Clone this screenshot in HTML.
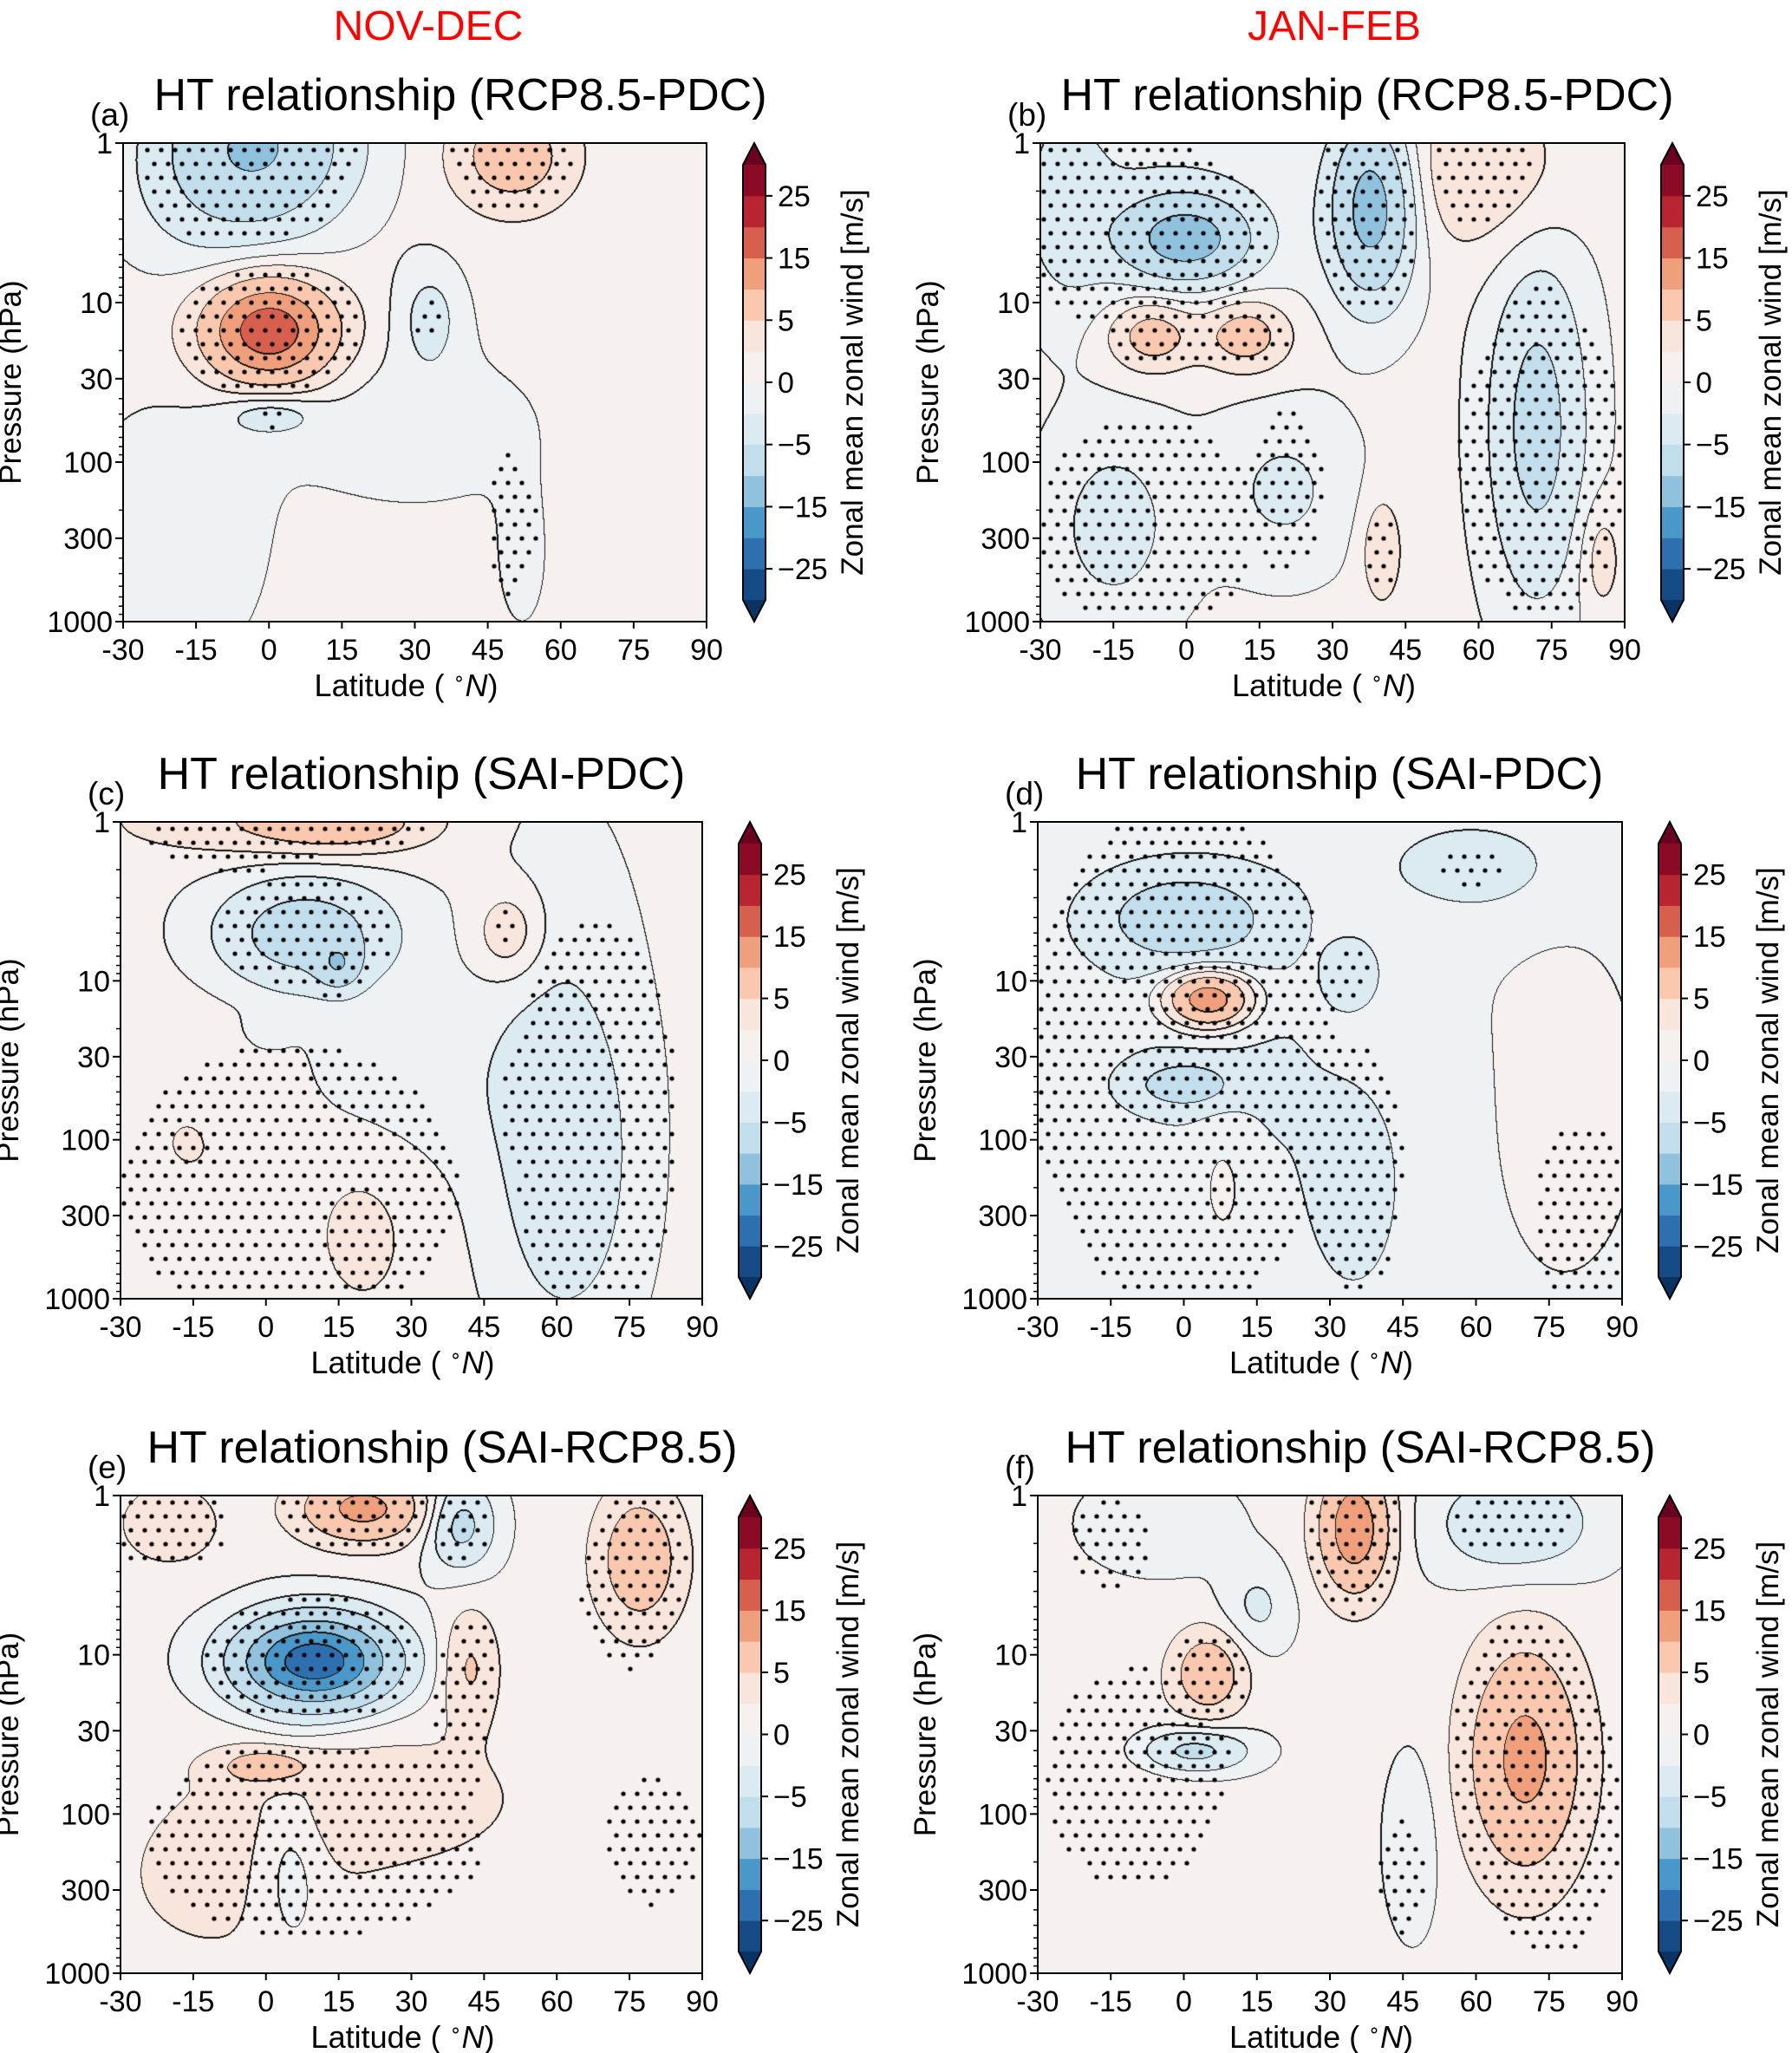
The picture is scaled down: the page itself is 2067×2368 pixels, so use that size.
<!DOCTYPE html>
<html><head><meta charset="utf-8">
<style>
html,body{margin:0;padding:0;background:#fff;}
body{width:2067px;height:2368px;position:relative;overflow:hidden;font-family:"Liberation Sans",sans-serif;}
canvas{position:absolute;}
svg{position:absolute;left:0;top:0;}
</style></head>
<body>
<svg id="svg" width="2067" height="2368"></svg>
<script>
// Colormap levels and colours (contourf bins)
const levels=[-30,-25,-20,-15,-10,-5,-2,0,2,5,10,15,20,25,30];
const binColors=['#154a85','#2e6fb0','#4a98c9','#90c2de','#c2ddec','#dceaf2','#eef2f5','#f6f0ee','#f8e5db','#f9c8ae','#f09f7c','#d6604d','#b82531','#8b0a26'];
const extLow='#0a3263', extHigh='#6a0120';
const cbTicks=[25,15,5,0,-5,-15,-25];
const xTicks=[-30,-15,0,15,30,45,60,75,90];
const yTicks=[1,10,30,100,300,1000];

// Panel field components (lat, pressure hPa, amplitude m/s, lat width, log-p width)
const latA=[0,-3,50,33,0,-20,30,52,-10], presA=[15,1,1.2,12,50,300,60,400,3], ampA=[18,-11,7,-3.5,-4,-2.2,-2,-1.5,-2], wlA=[9,14,8,5,7,14,18,4,15], wpA=[0.22,0.35,0.22,0.25,0.1,0.6,0.35,0.35,0.3];
const latB=[0,38,-7,12,72,60,-15,20,40,85,-25,-5], presB=[4,2.5,16,16,60,1.5,250,150,350,400,2,3], ampB=[-11,-13,7,7,-7,4,-3.5,-3,3.5,3,-3,-3], wlB=[9,6,6,6,7,12,10,10,3,3,6,18], wpB=[0.18,0.4,0.15,0.15,0.75,0.35,0.45,0.35,0.25,0.25,0.5,0.4];
const latC=[15,8,15,50,62,20,-15,0,30,60,-5], presC=[1,5,8,5,200,400,100,20,40,20,1], ampC=[7,-8,-6,4,-3.5,2,1.5,-2,-1.5,-2,3], wlC=[12,13,3,5,10,8,15,3,20,12,20], wpC=[0.12,0.25,0.1,0.2,0.7,0.4,0.5,0.08,0.4,1.0,0.15];
const latD=[0,5,0,60,78,35,8,45,35,15], presD=[4,13,45,2,60,250,180,10,9,30], ampD=[-7,15,-6,-2,2.5,-2,2,1,-3,-1.5], wlD=[12,6,7,15,10,6,4,15,4,25], wpD=[0.2,0.12,0.1,0.25,0.7,0.4,0.3,0.4,0.15,0.8];
const latE=[10,20,40,77,42,0,25,-10,5,-20], presE=[11,1.2,1.5,2.5,12,50,80,250,200,1.5], ampE=[-24,11,-7,8,5,6,3,2,-3,3], wlE=[11,9,5,6,4,7,20,20,5,8], wpE=[0.2,0.15,0.2,0.3,0.25,0.08,0.3,0.5,0.4,0.2];
const latF=[5,2,-5,35,68,70,-15,47,15], presF=[13,40,1.5,1.6,1.5,45,150,150,5], ampF=[8,-7,-2.5,13,-5,11,1.5,-2,-3], wlF=[5,8,10,5,12,8,15,4,5], wpF=[0.18,0.1,0.2,0.28,0.25,0.5,0.6,0.4,0.2];
const bases=[0.8,0.5,0.6,-0.8,0.5,0.5];

// Stippled (significant) regions: centre lat, centre pressure, lat radius, log-p radius
const stLatA=[50], stPresA=[250], stRlA=[5], stRpA=[0.45];
const stLatB=[-8,-8,73,20], stPresB=[4,250,100,150], stRlB=[25,22,17,8], stRpB=[0.6,0.7,1.0,0.5];
const stLatC=[5,68,-5], stPresC=[200,80,1.3], stRlC=[35,17,20], stRpC=[0.9,1.3,0.2];
const stLatD=[0,35,82], stPresD=[30,150,300], stRlD=[32,10,10], stRpD=[1.6,0.8,0.6];
const stLatE=[10,-20,75,40,80], stPresE=[150,1.5,4,25,150], stRlE=[35,12,10,6,10], stRpE=[0.6,0.3,0.5,0.5,0.4];
const stLatF=[-10,45,75,-15], stPresF=[60,250,100,2], stRlF=[18,5,15,8], stRpF=[0.7,0.4,0.9,0.3];

const panels=[
 {id:'a',title:'HT relationship (RCP8.5-PDC)',tx:531,x:142,y:165,w:673,h:552,lat:latA,pres:presA,amp:ampA,wl:wlA,wp:wpA,base:bases[0],sl:stLatA,sp:stPresA,srl:stRlA,srp:stRpA},
 {id:'b',title:'HT relationship (RCP8.5-PDC)',tx:1577,x:1200,y:165,w:674,h:552,lat:latB,pres:presB,amp:ampB,wl:wlB,wp:wpB,base:bases[1],sl:stLatB,sp:stPresB,srl:stRlB,srp:stRpB},
 {id:'c',title:'HT relationship (SAI-PDC)',tx:486,x:139,y:948,w:671,h:550,lat:latC,pres:presC,amp:ampC,wl:wlC,wp:wpC,base:bases[2],sl:stLatC,sp:stPresC,srl:stRlC,srp:stRpC},
 {id:'d',title:'HT relationship (SAI-PDC)',tx:1545,x:1197,y:948,w:674,h:550,lat:latD,pres:presD,amp:ampD,wl:wlD,wp:wpD,base:bases[3],sl:stLatD,sp:stPresD,srl:stRlD,srp:stRpD},
 {id:'e',title:'HT relationship (SAI-RCP8.5)',tx:510,x:139,y:1725,w:671,h:551,lat:latE,pres:presE,amp:ampE,wl:wlE,wp:wpE,base:bases[4],sl:stLatE,sp:stPresE,srl:stRlE,srp:stRpE},
 {id:'f',title:'HT relationship (SAI-RCP8.5)',tx:1569,x:1197,y:1725,w:674,h:551,lat:latF,pres:presF,amp:ampF,wl:wlF,wp:wpF,base:bases[5],sl:stLatF,sp:stPresF,srl:stRlF,srp:stRpF}
];

const NS='http://www.w3.org/2000/svg';
const svg=document.getElementById('svg');
function mk(tag,attrs,parent){const e=document.createElementNS(NS,tag);for(const k in attrs)e.setAttribute(k,attrs[k]);(parent||svg).appendChild(e);return e;}
function txt(s,attrs,parent){const e=mk('text',attrs,parent);e.textContent=s;return e;}
function hex(c){return [parseInt(c.slice(1,3),16),parseInt(c.slice(3,5),16),parseInt(c.slice(5,7),16)];}
const rgb=binColors.map(hex);
function binOf(v){let i=0;while(i<levels.length-2&&v>=levels[i+1])i++;return i;}

let t=txt('NOV-DEC',{x:494,y:46,'font-size':48,fill:'#ff0000','text-anchor':'middle'});

t=txt('JAN-FEB',{x:1539,y:46,'font-size':48,fill:'#ff0000','text-anchor':'middle'});


panels.forEach(P=>{
  const xs=lat=>P.x+(lat+30)/120*P.w;
  const ys=p=>P.y+Math.log10(p)/3*P.h;
  const cv=document.createElement('canvas');
  cv.width=P.w;cv.height=P.h;cv.style.left=P.x+'px';cv.style.top=P.y+'px';
  
  
  document.body.insertBefore(cv,svg);
  const ctx=cv.getContext('2d');
  const W=P.w,H=P.h;
  const vals=new Float32Array(W*H), bins=new Int8Array(W*H);
  for(let j=0;j<H;j++){
    const lp=j/H*3;
    for(let i=0;i<W;i++){
      const la=-30+i/W*120;let v=P.base;
      for(let k=0;k<P.lat.length;k++){
        const dl=(la-P.lat[k])/P.wl[k], dp=(lp-Math.log10(P.pres[k]))/P.wp[k];
        v+=P.amp[k]*Math.exp(-0.5*(dl*dl+dp*dp));
      }
      vals[j*W+i]=v;bins[j*W+i]=binOf(v);
    }
  }
  const img=ctx.createImageData(W,H);const d=img.data;
  for(let j=0;j<H;j++)for(let i=0;i<W;i++){
    const n=j*W+i,b=bins[n];let c=rgb[b];
    const edge=(i<W-1&&bins[n+1]!==b)||(j<H-1&&bins[n+W]!==b)||(i>0&&bins[n-1]!==b&&bins[n-1]>b)||(j>0&&bins[n-W]!==b&&bins[n-W]>b);
    if(edge)c=[20,20,20];
    d[n*4]=c[0];d[n*4+1]=c[1];d[n*4+2]=c[2];d[n*4+3]=255;
  }
  ctx.putImageData(img,0,0);
  ctx.fillStyle='#000';
  const sp=16;
  for(let j=8,r=0;j<H;j+=sp,r++)for(let i=(r%2?4:12);i<W;i+=sp){
    let sig=Math.abs(vals[Math.floor(j)*W+Math.floor(i)])>2.5;
    const la=-30+i/W*120, lp=j/H*3;
    for(let k=0;k<P.sl.length&&!sig;k++){
      const a=(la-P.sl[k])/P.srl[k], b=(lp-Math.log10(P.sp[k]))/P.srp[k];
      if(a*a+b*b<1)sig=true;
    }
    if(sig){ctx.beginPath();ctx.arc(i,j,2.6,0,6.283);ctx.fill();}
  }
  const g=mk('g',{});
  
  
  const fr=mk('rect',{x:P.x,y:P.y,width:P.w,height:P.h,fill:'none',stroke:'#000','stroke-width':2},g);
  
  let e=txt(P.title,{x:P.tx,y:P.y-38,'font-size':52,'text-anchor':'middle',fill:'#000'},g);
  
  e=txt('('+P.id+')',{x:P.x-38,y:P.y-20,'font-size':37,fill:'#000'},g);
  
  xTicks.forEach(v=>{
    const X=xs(v);
    mk('line',{x1:X,x2:X,y1:P.y+P.h,y2:P.y+P.h+8,stroke:'#000','stroke-width':2},g);
    const l=txt(String(v),{x:X,y:P.y+P.h+44,'font-size':34,'text-anchor':'middle'},g);
    
  });
  e=txt('',{x:P.x+P.w/2-10,y:P.y+P.h+86,'font-size':36,'text-anchor':'middle'},g);
  e.innerHTML='Latitude ( <tspan font-size="22" dy="-13">∘</tspan><tspan dy="13" font-style="italic">N</tspan>)';
  
  for(let dec=0;dec<3;dec++)for(let m=2;m<10;m++){
    const Y=ys(Math.pow(10,dec)*m);
    mk('line',{x1:P.x-5,x2:P.x,y1:Y,y2:Y,stroke:'#000','stroke-width':1.5},g);
  }
  yTicks.forEach(v=>{
    const Y=ys(v);
    mk('line',{x1:P.x-9,x2:P.x,y1:Y,y2:Y,stroke:'#000','stroke-width':2},g);
    const l=txt(String(v),{x:P.x-12,y:Y+12,'font-size':34,'text-anchor':'end'},g);
    
  });
  const yl=P.x-118, yc=P.y+P.h/2;
  e=txt('Pressure (hPa)',{x:yl,y:yc,'font-size':35,'text-anchor':'middle',transform:`rotate(-90 ${yl} ${yc})`},g);
  
  const cbx=P.x+P.w+42, cbw=26, tip=25, top=P.y, n=binColors.length;
  const bh=(P.h-2*tip)/n;
  const cb=mk('g',{},g);
  
  for(let k=0;k<n;k++){
    const Y=top+tip+(n-1-k)*bh;
    mk('rect',{x:cbx,y:Y,width:cbw,height:bh+0.5,fill:binColors[k]},cb);
  }
  mk('polygon',{points:`${cbx},${top+tip} ${cbx+cbw/2},${top} ${cbx+cbw},${top+tip}`,fill:extHigh},cb);
  mk('polygon',{points:`${cbx},${top+P.h-tip} ${cbx+cbw/2},${top+P.h} ${cbx+cbw},${top+P.h-tip}`,fill:extLow},cb);
  mk('polygon',{points:`${cbx},${top+tip} ${cbx+cbw/2},${top} ${cbx+cbw},${top+tip} ${cbx+cbw},${top+P.h-tip} ${cbx+cbw/2},${top+P.h} ${cbx},${top+P.h-tip}`,fill:'none',stroke:'#000','stroke-width':2},cb);
  cbTicks.forEach(v=>{
    const idx=levels.indexOf(v);
    const Y=top+tip+(n-idx)*bh;
    mk('line',{x1:cbx+cbw,x2:cbx+cbw+8,y1:Y,y2:Y,stroke:'#000','stroke-width':2},cb);
    const l=txt(v<0?'\u2212'+(-v):String(v),{x:cbx+cbw+14,y:Y+12,'font-size':34},cb);
    
  });
  const lx=cbx+138, ly=P.y+P.h/2;
  e=txt('Zonal mean zonal wind [m/s]',{x:lx,y:ly,'font-size':35,'text-anchor':'middle',transform:`rotate(-90 ${lx} ${ly})`},cb);
  
});
</script>
</body></html>
